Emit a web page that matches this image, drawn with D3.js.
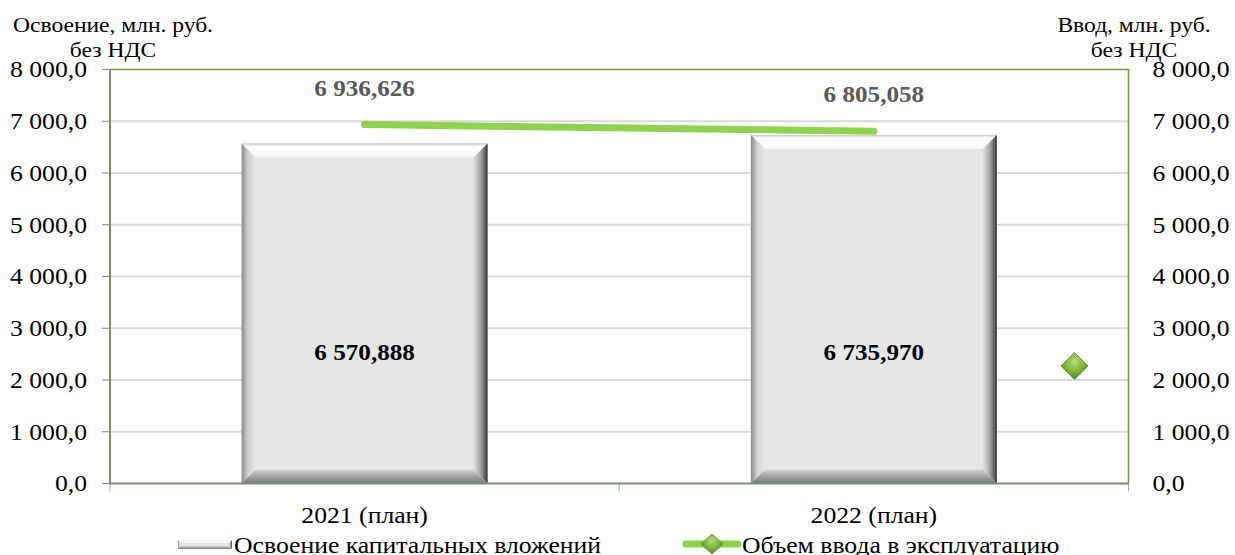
<!DOCTYPE html>
<html lang="ru">
<head>
<meta charset="UTF-8">
<title>Освоение и ввод</title>
<script src="https://d3js.org/d3.v7.min.js"></script>
<style>
    body { margin: 0; background: #fff; }
    text { font-family: "Liberation Serif", "Times New Roman", serif; }
</style>
</head>
<body>
<svg width="1235" height="555"></svg>
<script>
    // data
    const categories = ["2021 (план)", "2022 (план)"];
    const investValues = [6570.888, 6735.970];     // Освоение капитальных вложений
    const commissionValues = [6936.626, 6805.058]; // Объем ввода в эксплуатацию
    const tickValues = [0, 1000, 2000, 3000, 4000, 5000, 6000, 7000, 8000];
    const seriesNames = ["Освоение капитальных вложений", "Объем ввода в эксплуатацию"];
    const strayMarker = { pos: 1.894, value: 2270 }; // lone diamond near right axis

    const SX = 1.07; // text in the source is a bit stretched horizontally
    const svg = d3.select("svg");
    const margin = { left: 110, right: 106.5, top: 69.5, bottom: 71.5 };
    const W = 1235, H = 555;
    const plotW = W - margin.left - margin.right;
    const plotH = H - margin.top - margin.bottom;

    const x = d3.scaleBand().domain(categories).range([margin.left, margin.left + plotW]);
    const xLin = d3.scaleLinear().domain([0, categories.length]).range([margin.left, margin.left + plotW]);
    const y = d3.scaleLinear().domain([0, 8000]).range([margin.top + plotH, margin.top]);
    const y2 = d3.scaleLinear().domain([0, 8000]).range([margin.top + plotH, margin.top]);

    const fmtTick = v => d3.format(",.1f")(v).replace(/,/g, " ").replace(".", ",");
    const fmtVal = v => d3.format(",.3f")(v).replace(/,/g, " ").replace(".", ",");

    function stext(g, tx, ty, str, opts) {
        return g.append("text")
            .attr("transform", `translate(${tx},${ty}) scale(${SX},1)`)
            .attr("text-anchor", opts.anchor || "middle")
            .attr("dy", opts.dy || 0)
            .attr("font-size", opts.size || 24)
            .attr("font-weight", opts.weight || "normal")
            .attr("fill", opts.fill || "#000")
            .text(str);
    }

    const defs = svg.append("defs");
    function grad(id, x2, y2v, stops) {
        const g = defs.append("linearGradient").attr("id", id)
            .attr("x1", 0).attr("y1", 0).attr("x2", x2).attr("y2", y2v);
        stops.forEach(s => g.append("stop").attr("offset", s[0]).attr("stop-color", s[1]));
    }
    grad("bevTop", 0, 1, [[0, "#c4c4c4"], [0.2, "#ffffff"], [1, "#f6f6f6"]]);
    grad("bevLeft", 1, 0, [[0, "#8a8a8a"], [0.45, "#d0d0d0"], [1, "#e8e8e8"]]);
    grad("bevRight", 1, 0, [[0, "#e2e2e2"], [0.5, "#a6a6a6"], [1, "#383838"]]);
    grad("bevBottom", 0, 1, [[0, "#d6d6d6"], [0.6, "#9a9a9a"], [1, "#787878"]]);
    const dg = defs.append("radialGradient").attr("id", "diam").attr("cx", 0.5).attr("cy", 0.35).attr("r", 0.7);
    dg.append("stop").attr("offset", 0).attr("stop-color", "#b6e07a");
    dg.append("stop").attr("offset", 0.5).attr("stop-color", "#7fb23a");
    dg.append("stop").attr("offset", 1).attr("stop-color", "#4f7a1f");

    // gridlines
    svg.append("g").selectAll("line").data(tickValues.filter(v => v > 0 && v < 8000)).join("line")
        .attr("x1", margin.left).attr("x2", margin.left + plotW)
        .attr("y1", d => y(d)).attr("y2", d => y(d))
        .attr("stroke", "#d9d9d9").attr("stroke-width", 2);

    // left ticks
    svg.append("g").selectAll("line").data(tickValues).join("line")
        .attr("x1", margin.left - 8).attr("x2", margin.left)
        .attr("y1", d => y(d)).attr("y2", d => y(d))
        .attr("stroke", "#8c8c8c").attr("stroke-width", 1);

    // x ticks
    svg.append("g").selectAll("line").data([0, 1, 2]).join("line")
        .attr("x1", d => xLin(d)).attr("x2", d => xLin(d))
        .attr("y1", y(0)).attr("y2", y(0) + 8)
        .attr("stroke", "#a6a6a6").attr("stroke-width", 1);

    // bars with bevel
    const bw = x.bandwidth() * 0.483;
    const bev = 14;
    svg.append("g").selectAll("g").data(investValues).join("g").each(function (d, i) {
        const g = d3.select(this);
        const cx = x(categories[i]) + x.bandwidth() / 2;
        const x0 = cx - bw / 2, x1 = cx + bw / 2, y0 = y(d), y1 = y(0);
        g.append("rect").attr("x", x0).attr("y", y0).attr("width", bw).attr("height", y1 - y0).attr("fill", "#e6e6e6");
        const poly = (pts, fill) => g.append("polygon").attr("points", pts.map(p => p.join(",")).join(" ")).attr("fill", fill);
        poly([[x0, y0], [x1, y0], [x1 - bev, y0 + bev], [x0 + bev, y0 + bev]], "url(#bevTop)");
        poly([[x0, y0], [x0 + bev, y0 + bev], [x0 + bev, y1 - bev], [x0, y1]], "url(#bevLeft)");
        poly([[x1, y0], [x1, y1], [x1 - bev, y1 - bev], [x1 - bev, y0 + bev]], "url(#bevRight)");
        poly([[x0, y1], [x0 + bev, y1 - bev], [x1 - bev, y1 - bev], [x1, y1]], "url(#bevBottom)");
    });

    // plot border: top and right green, left and bottom grey-green
    svg.append("path")
        .attr("d", `M${margin.left},${margin.top}H${margin.left + plotW}V${y(0)}`)
        .attr("fill", "none").attr("stroke", "#6f9444").attr("stroke-width", 1.5);
    svg.append("path")
        .attr("d", `M${margin.left},${margin.top}V${y(0)}H${margin.left + plotW}`)
        .attr("fill", "none").attr("stroke", "#7d8d70").attr("stroke-width", 2);

    // line series
    const line = d3.line().x((d, i) => x(categories[i]) + x.bandwidth() / 2).y(d => y2(d));
    svg.append("path").datum(commissionValues).attr("d", line)
        .attr("fill", "none").attr("stroke", "#92d050").attr("stroke-width", 7).attr("stroke-linecap", "round");

    function diamond(g, cx, cy, rx, ry) {
        g.append("polygon")
            .attr("points", [[cx, cy - ry], [cx + rx, cy], [cx, cy + ry], [cx - rx, cy]].map(p => p.join(",")).join(" "))
            .attr("fill", "url(#diam)").attr("stroke", "#5d8a28").attr("stroke-width", 0.8);
    }
    diamond(svg, xLin(strayMarker.pos), y2(strayMarker.value), 13.5, 13.5);

    // axis tick labels
    const axL = svg.append("g");
    tickValues.forEach(v => stext(axL, margin.left - 23, y(v), fmtTick(v), { anchor: "end", dy: "0.33em" }));
    const axR = svg.append("g");
    tickValues.forEach(v => stext(axR, margin.left + plotW + 24, y2(v), fmtTick(v), { anchor: "start", dy: "0.33em" }));

    // axis titles
    const tl = svg.append("g");
    stext(tl, 113, 32, "Освоение, млн. руб.", { size: 22 });
    stext(tl, 113, 57, "без НДС", { size: 22 });
    stext(tl, 1134, 32, "Ввод, млн. руб.", { size: 22 });
    stext(tl, 1134, 57, "без НДС", { size: 22 });

    // category labels
    const cl = svg.append("g");
    categories.forEach(c => stext(cl, x(c) + x.bandwidth() / 2, y(0) + 39, c, { size: 24 }));

    // data labels
    const dl = svg.append("g");
    commissionValues.forEach((v, i) => stext(dl, x(categories[i]) + x.bandwidth() / 2, y2(v) - 29,
        fmtVal(v), { size: 23.5, weight: "bold", fill: "#595959" }));
    investValues.forEach((v, i) => stext(dl, x(categories[i]) + x.bandwidth() / 2, y(2550),
        fmtVal(v), { size: 23.5, weight: "bold", dy: "0.35em" }));

    // legend
    const lg = svg.append("g");
    const ly = 544;
    (function () {
        const x0 = 178, x1 = 232, y0 = ly - 4, y1 = ly + 5, b = 3;
        lg.append("rect").attr("x", x0).attr("y", y0).attr("width", x1 - x0).attr("height", y1 - y0).attr("fill", "#e6e6e6");
        const poly = (pts, fill) => lg.append("polygon").attr("points", pts.map(p => p.join(",")).join(" ")).attr("fill", fill);
        poly([[x0, y0], [x1, y0], [x1 - b, y0 + b], [x0 + b, y0 + b]], "url(#bevTop)");
        poly([[x0, y0], [x0 + b, y0 + b], [x0 + b, y1 - b], [x0, y1]], "url(#bevLeft)");
        poly([[x1, y0], [x1, y1], [x1 - b, y1 - b], [x1 - b, y0 + b]], "url(#bevRight)");
        poly([[x0, y1], [x0 + b, y1 - b], [x1 - b, y1 - b], [x1, y1]], "url(#bevBottom)");
    })();
    stext(lg, 234, ly + 9, seriesNames[0], { anchor: "start", size: 24 });
    lg.append("line").attr("x1", 686).attr("x2", 738).attr("y1", ly).attr("y2", ly)
        .attr("stroke", "#92d050").attr("stroke-width", 7).attr("stroke-linecap", "round");
    diamond(lg, 712, ly, 11, 10);
    stext(lg, 742, ly + 9, seriesNames[1], { anchor: "start", size: 24 });
</script>
</body>
</html>
